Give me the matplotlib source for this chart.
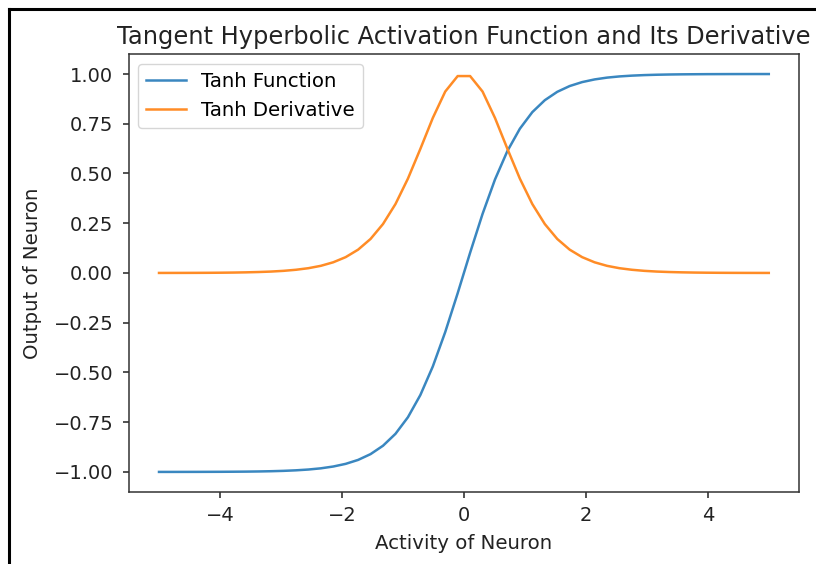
import matplotlib
matplotlib.use("Agg")
import matplotlib.pyplot as plt
from matplotlib.lines import Line2D

# sample points on [-5, 5] (50 evenly spaced values)
x_pos = [0.102, 0.306, 0.510, 0.714, 0.918, 1.122, 1.327, 1.531, 1.735, 1.939,
         2.143, 2.347, 2.551, 2.755, 2.959, 3.163, 3.367, 3.571, 3.776, 3.980,
         4.184, 4.388, 4.592, 4.796, 5.000]
tanh_pos = [0.1017, 0.2968, 0.4700, 0.6134, 0.7251, 0.8084, 0.8684, 0.9105, 0.9396, 0.9594,
            0.9728, 0.9819, 0.9879, 0.9919, 0.9946, 0.9964, 0.9976, 0.9984, 0.9989, 0.9993,
            0.9995, 0.9997, 0.9998, 0.9999, 0.9999]
deriv_pos = [0.9897, 0.9119, 0.7791, 0.6237, 0.4742, 0.3465, 0.2459, 0.1710, 0.1172, 0.0796,
             0.0537, 0.0359, 0.0240, 0.0161, 0.0107, 0.0071, 0.0048, 0.0032, 0.0021, 0.0014,
             0.0009, 0.0006, 0.0004, 0.0003, 0.0002]

x = [-v for v in reversed(x_pos)] + x_pos
y_tanh = [-v for v in reversed(tanh_pos)] + tanh_pos
y_deriv = list(reversed(deriv_pos)) + deriv_pos

fig = plt.figure(figsize=(8.16, 5.64), dpi=100)
ax = fig.add_axes([0.1575, 0.128, 0.822, 0.776])

ax.plot(x, y_tanh, color="#3a87c0", lw=1.8, label="Tanh Function")
ax.plot(x, y_deriv, color="#ff8c26", lw=1.8, label="Tanh Derivative")

ax.set_yticks([-1.0, -0.75, -0.5, -0.25, 0.0, 0.25, 0.5, 0.75, 1.0])
ax.set_yticklabels(["\u22121.00", "\u22120.75", "\u22120.50", "\u22120.25", "0.00",
                    "0.25", "0.50", "0.75", "1.00"])
ax.tick_params(labelsize=14, length=4.5, width=1.1, colors="#222222")
ax.tick_params(axis="y", pad=6.5)
ax.tick_params(axis="x", pad=6)
for s in ax.spines.values():
    s.set_linewidth(1.1)
    s.set_color("#333333")

ax.set_title("Tangent Hyperbolic Activation Function and Its Derivative",
             fontsize=17.4, pad=7, color="#222222")
ax.set_xlabel("Activity of Neuron", fontsize=14.2, color="#222222", labelpad=6)
ax.set_ylabel("Output of Neuron", fontsize=14.2, color="#222222", labelpad=8)
ax.legend(loc="upper left", fontsize=14.2)

# black frame along the top and left edges
fig.add_artist(Line2D([8.5 / 816, 1.0], [1 - 9 / 564, 1 - 9 / 564],
                      transform=fig.transFigure, color="black", lw=2.2))
fig.add_artist(Line2D([8.5 / 816, 8.5 / 816], [0.0, 1 - 9 / 564],
                      transform=fig.transFigure, color="black", lw=2.2))

fig.savefig("out.png", dpi=100)
